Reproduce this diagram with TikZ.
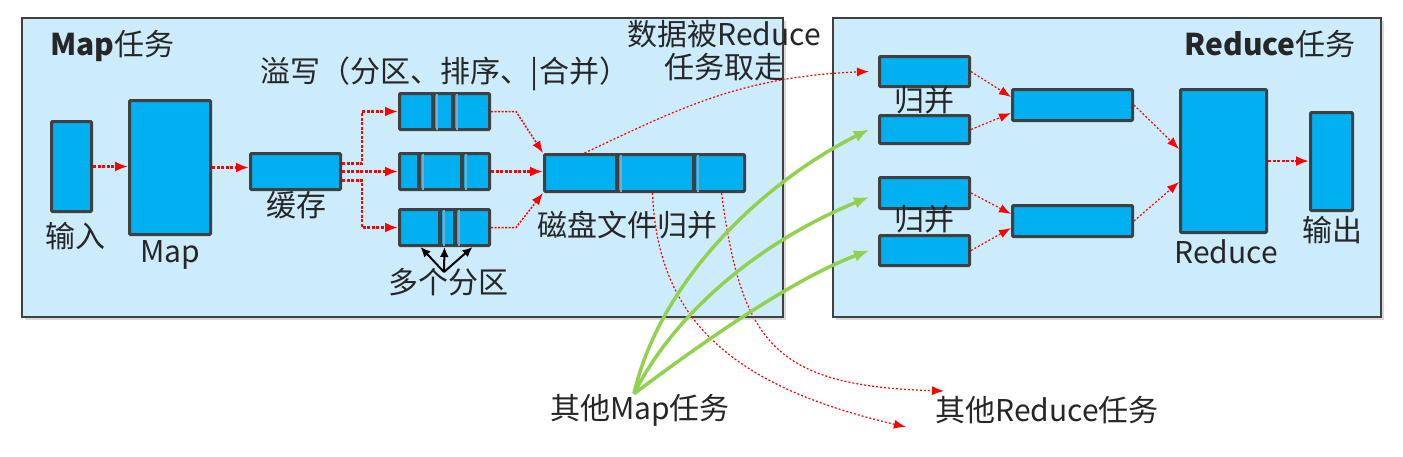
\documentclass[tikz,border=0pt]{standalone}
\usepackage{fontspec}
\setmainfont{Noto Sans CJK SC}
\usepackage{tikz}
\usetikzlibrary{arrows.meta}
\definecolor{panelbg}{RGB}{204,236,252}
\definecolor{boxfill}{RGB}{0,176,240}
\definecolor{boxline}{RGB}{64,64,64}
\definecolor{divline}{RGB}{125,170,195}
\definecolor{greenarr}{RGB}{146,208,80}
\newcommand{\partsep}[3]{%
  \draw[divdark] (#1,#2) -- (#1,#3);
  \draw[divlite] (#1+4,#2+1.5) -- (#1+4,#3-1.5);}

\begin{document}
\begin{tikzpicture}[x=1pt,y=-1pt,
    panel/.style={draw=boxline,line width=1.2pt,fill=panelbg},
    blk/.style={draw=boxline,line width=3pt,fill=boxfill,rounded corners=1pt,inner sep=0pt},
    lbl/.style={font=\fontsize{30}{33}\selectfont,text=black!85,inner sep=0pt},
    spill/.style={red,line width=2.5pt,dash pattern=on 3pt off 1.5pt,-{Latex[length=13pt,width=10pt]}},
    merge/.style={red,line width=1.5pt,dash pattern=on 2pt off 1.5pt,-{Latex[length=12pt,width=9pt]}},
    fetch/.style={red,line width=1.2pt,dash pattern=on 2pt off 2pt,-{Latex[length=12pt,width=9pt]}},
    pull/.style={greenarr,line width=3.5pt,-{Latex[length=15pt,width=12pt]}},
    divdark/.style={boxline,line width=4pt},
    divlite/.style={divline,line width=2pt}]

  \useasboundingbox (0,0) rectangle (1403,456);

  % panels
  \fill[black!15] (25,21) rectangle (786,320);
  \fill[black!15] (836,21) rectangle (1384,320);
  \draw[panel] (22,18) rectangle (783,317);
  \draw[panel] (833,18) rectangle (1381,317);

  % map side
  \node[blk,minimum width=40pt,minimum height=90pt] (in) at (71.5,166.5) {};
  \node[blk,minimum width=81pt,minimum height=134pt] (map) at (170,167.5) {};
  \node[blk,minimum width=90pt,minimum height=36pt] (cache) at (295.5,171.5) {};
  \node[blk,minimum width=90pt,minimum height=36pt] (p1) at (444.5,111.5) {};
  \node[blk,minimum width=90pt,minimum height=36pt] (p2) at (444.5,171.5) {};
  \node[blk,minimum width=90pt,minimum height=36pt] (p3) at (444.5,227.5) {};
  \node[blk,minimum width=200pt,minimum height=37pt] (merged) at (644.5,173) {};
  \partsep{432.5}{92}{131}\partsep{452.5}{92}{131}
  \partsep{419}{152}{191}\partsep{462}{152}{191}
  \partsep{439.5}{208}{247}\partsep{455}{208}{247}
  \partsep{616.5}{153}{193}\partsep{694}{153}{193}

  % reduce side
  \node[blk,minimum width=90pt,minimum height=30pt] (a1) at (924.5,71.5) {};
  \node[blk,minimum width=90pt,minimum height=28pt] (a2) at (924.5,129.5) {};
  \node[blk,minimum width=90pt,minimum height=31pt] (b1) at (924.5,193) {};
  \node[blk,minimum width=90pt,minimum height=30pt] (b2) at (924.5,250.5) {};
  \node[blk,minimum width=120pt,minimum height=31pt] (c1) at (1072.5,105) {};
  \node[blk,minimum width=120pt,minimum height=31pt] (c2) at (1072.5,221) {};
  \node[blk,minimum width=86pt,minimum height=143pt] (rdc) at (1223.5,161) {};
  \node[blk,minimum width=42pt,minimum height=98pt] (out) at (1331.5,161.5) {};

  % labels
  \node[lbl,anchor=west] (maptitle) at (50,46) {\textbf{Map}任务};
  \node[lbl,anchor=east] (rdctitle) at (1356,44) {\textbf{Reduce}任务};
  \node[lbl] (inlbl) at (75,236) {输入};
  \node[lbl] (maplbl) at (170,255) {Map};
  \node[lbl] (cachelbl) at (296,205) {缓存};
  \node[lbl] (spilllbl) at (445,74) {溢写（分区、排序、|合并）};
  \node[lbl] (disklbl) at (627,225) {磁盘文件归并};
  \node[lbl] (partlbl) at (448,282) {多个分区};
  \node[lbl,align=center] (fetchlbl) at (724,51) {数据被Reduce\\任务取走};
  \node[lbl] (mg1lbl) at (924,100) {归并};
  \node[lbl] (mg2lbl) at (924,219) {归并};
  \node[lbl] (rdclbl) at (1226,252) {Reduce};
  \node[lbl] (outlbl) at (1332,230) {输出};
  \node[lbl] (omap) at (640,410) {其他Map任务};
  \node[lbl] (ored) at (1047,410) {其他Reduce任务};
  \coordinate (ored1) at (944,391);
  \coordinate (ored2) at (906,427);
  \coordinate (fan) at (444,272);

  % map side arrows
  \draw[spill] (in.east) -- (in.east -| map.west);
  \draw[spill] (map.east) -- (map.east -| cache.west);
  \draw[spill] ([yshift=8pt]cache.east) -- ++(20,0) |- (p1.west);
  \draw[spill] (cache.east) -- (cache.east -| p2.west);
  \draw[spill] ([yshift=-9pt]cache.east) -- ++(20,0) |- (p3.west);
  \draw[merge] (p1.east) -- ++(25,0) -- (merged.north west);
  \draw[spill] (p2.east) -- (p2.east -| merged.west);
  \draw[merge] (p3.east) -- ++(25,0) -- (merged.south west);
  \foreach \dx in {-24,0,28}
    \draw[black,line width=2pt,-{Latex[length=10pt,width=9pt]}] (fan) -- ([xshift=\dx pt]p3.south);

  % shuffle
  \draw[fetch] ([xshift=-60pt]merged.north) .. controls +(90,-42) and +(-130,5) .. ([xshift=-9pt]a1.west);
  \draw[fetch] ([xshift=8pt]merged.south) .. controls +(5,130) and +(-170,-40) .. (ored2);
  \draw[fetch] ([xshift=77pt]merged.south) .. controls +(20,150) and +(-170,-5) .. (ored1);
  \draw[pull] ([xshift=-6pt]omap.north) .. controls +(25,-110) and +(-110,55) .. ([xshift=-9pt]a2.west);
  \draw[pull] ([xshift=-6pt]omap.north) .. controls +(40,-80) and +(-110,45) .. ([xshift=-9pt,yshift=-4pt]b1.west);
  \draw[pull] ([xshift=-6pt]omap.north) .. controls +(60,-45) and +(-80,30) .. ([xshift=-9pt]b2.west);

  % reduce side arrows
  \draw[fetch] (a1.east) -- ([yshift=8pt]c1.west);
  \draw[fetch] (a2.east) -- ([yshift=-8pt]c1.west);
  \draw[fetch] (b1.east) -- ([yshift=7pt]c2.west);
  \draw[fetch] (b2.east) -- ([yshift=-7pt]c2.west);
  \draw[fetch] (c1.east) -- ([yshift=12pt]rdc.west);
  \draw[fetch] (c2.east) -- ([yshift=-21pt]rdc.west);
  \draw[spill] (rdc.east) -- (rdc.east -| out.west);
\end{tikzpicture}
\end{document}
